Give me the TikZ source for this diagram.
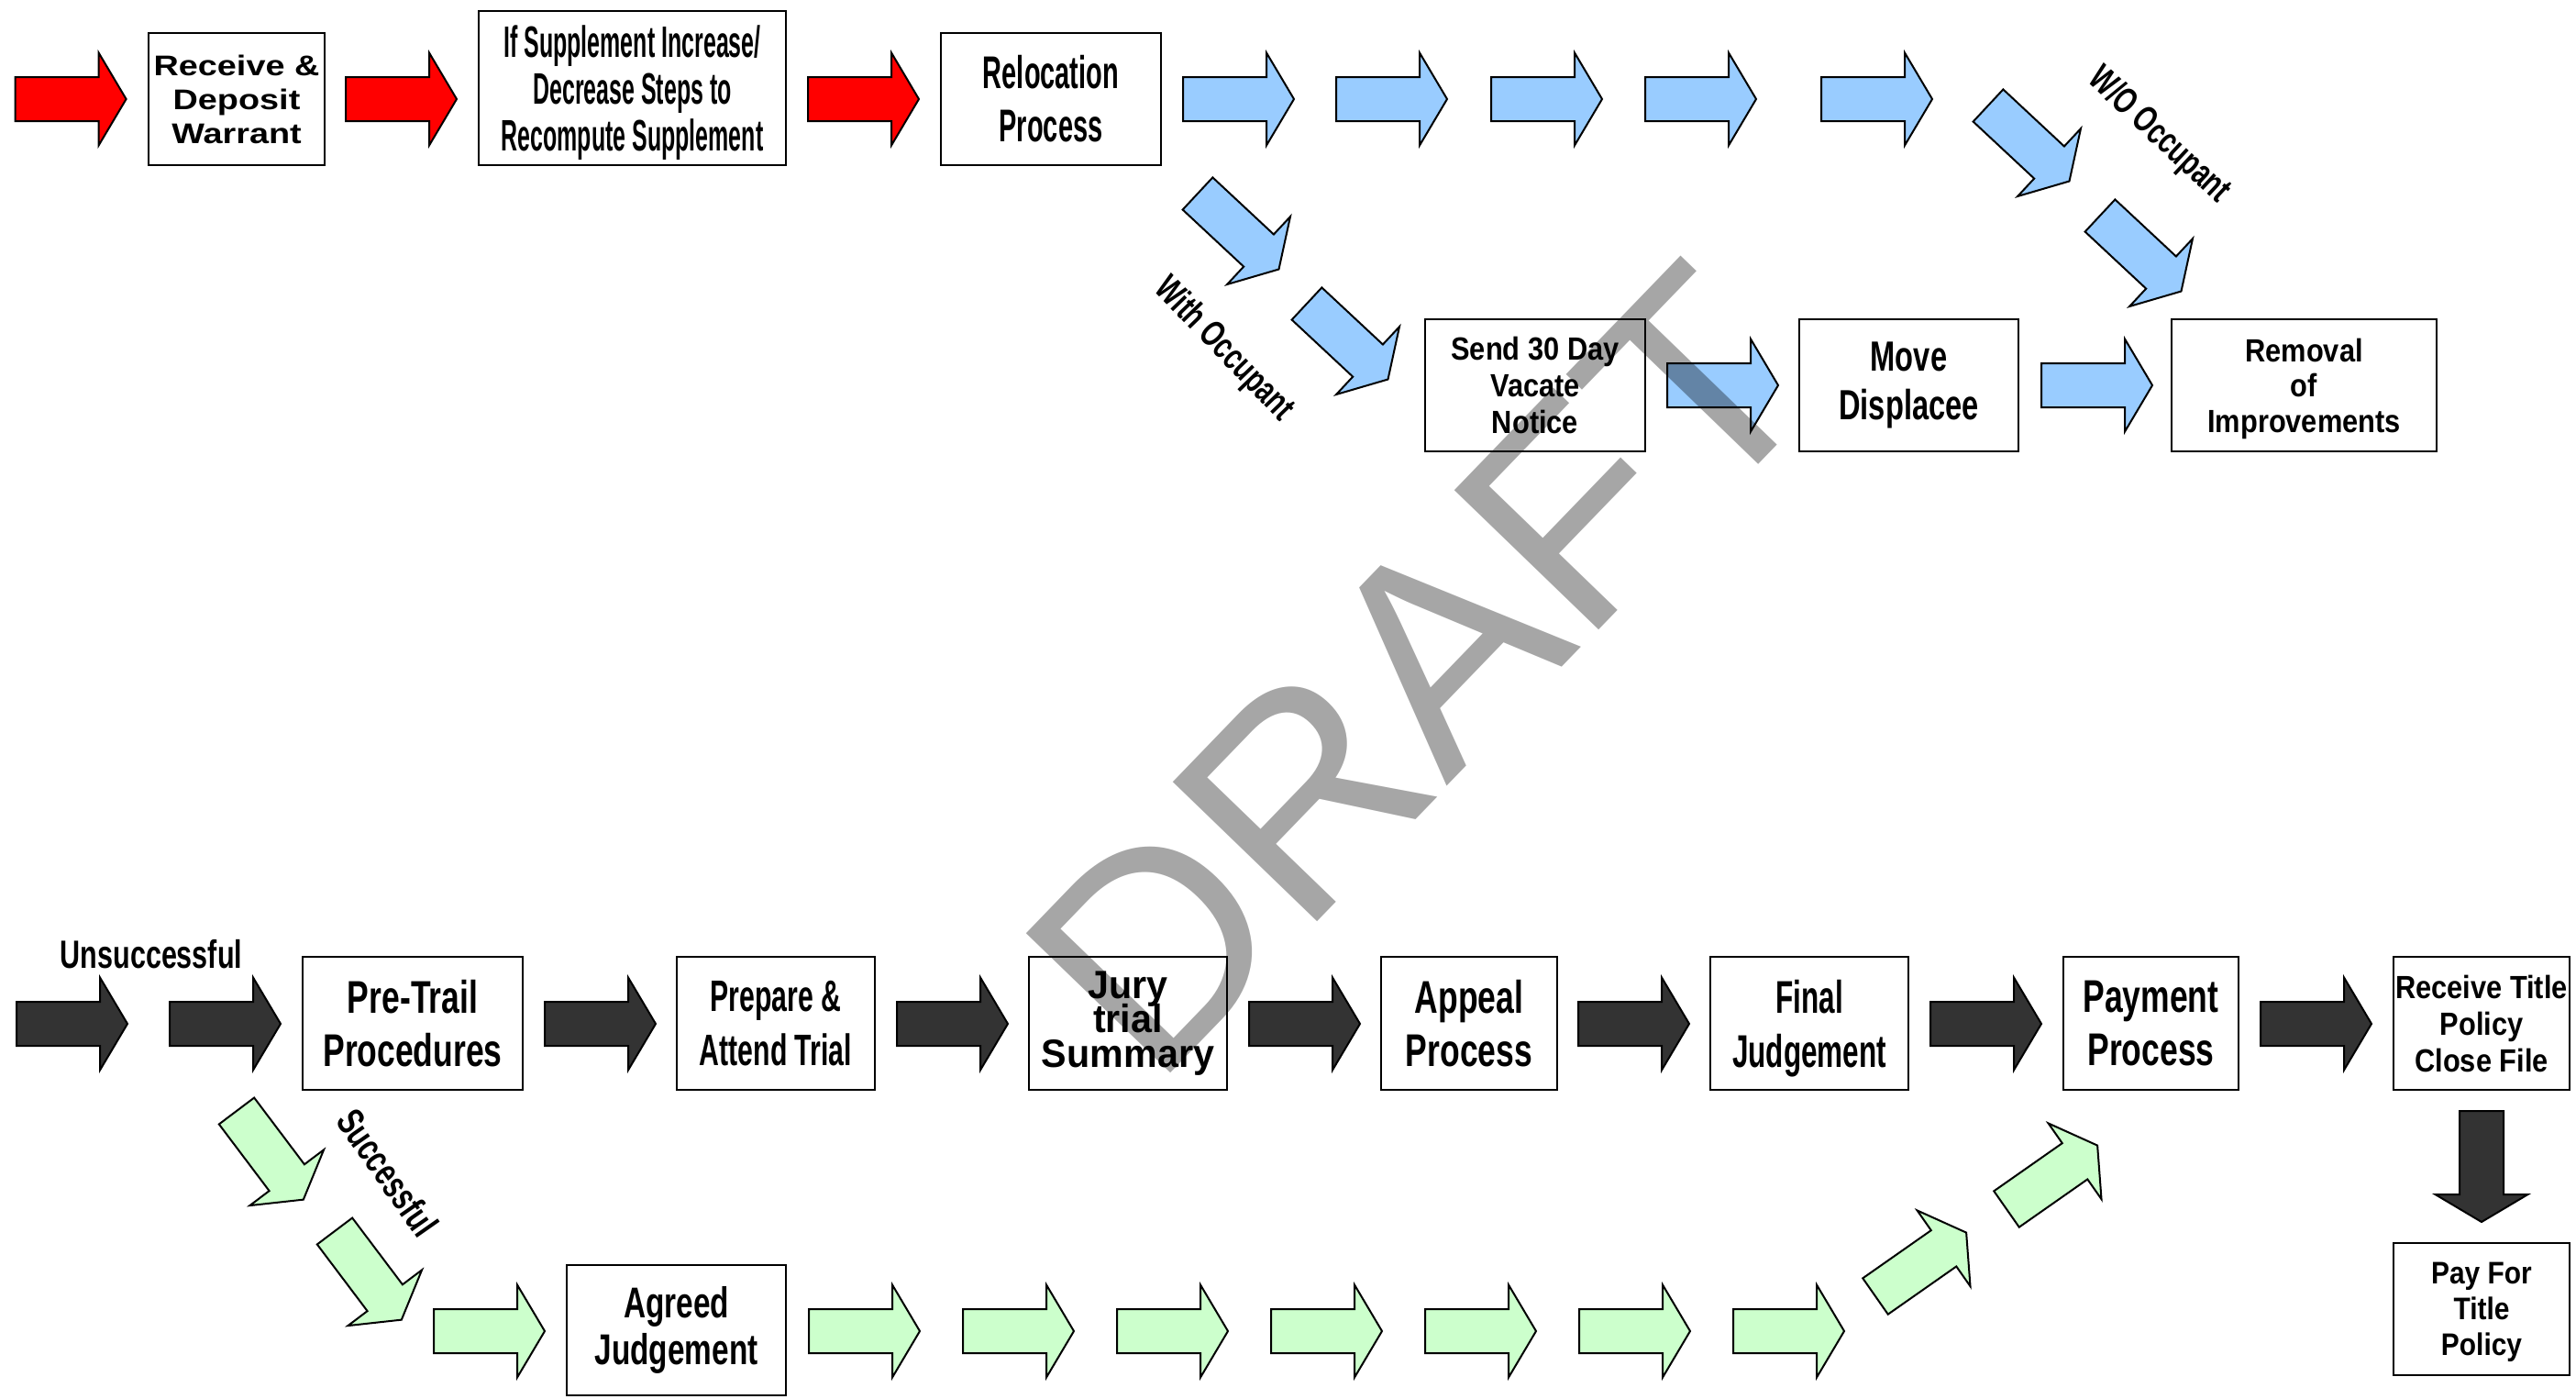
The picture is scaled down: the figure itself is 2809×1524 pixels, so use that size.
\documentclass[tikz,border=0pt]{standalone}
\usepackage{fontspec}
\newfontfamily\fsR{Liberation Sans}
\newfontfamily\fsS{Liberation Sans}[FakeStretch=0.52]
\newfontfamily\fsA{Liberation Sans}[FakeStretch=0.58]
\newfontfamily\fsB{Liberation Sans}[FakeStretch=0.63]
\newfontfamily\fsC{Liberation Sans}[FakeStretch=0.71]
\newfontfamily\fsE{Liberation Sans}[FakeStretch=0.88]
\newfontfamily\fsF{Liberation Sans}[FakeStretch=0.96]
\newfontfamily\fsG{Liberation Sans}[FakeStretch=1.22]
\newcommand\bxfont[3]{#1\bfseries\fontsize{#2}{#3}\selectfont\lineskiplimit=-1000pt\relax}
\definecolor{redA}{HTML}{FF0000}
\definecolor{blueA}{HTML}{99CCFF}
\definecolor{darkA}{HTML}{333333}
\definecolor{greenA}{HTML}{CCFFCC}
\tikzset{
  arrline/.style={draw=black, line width=2, line join=miter},
  redf/.style={fill=redA},
  bluef/.style={fill=blueA},
  darkf/.style={fill=darkA},
  greenf/.style={fill=greenA},
  barrow/.pic={\draw[arrline,#1] (0,24) -- (91,24) -- (91,50.5) -- (121,0) -- (91,-50.5) -- (91,-24) -- (0,-24) -- cycle;},
  box/.style={draw=black, line width=2.5, fill=white, inner sep=0pt, align=center},
  lbl/.style={inner sep=0pt, align=center},
}
\begin{document}
\begin{tikzpicture}[x=1pt, y=-1pt]
\useasboundingbox[fill=white] (0,0) rectangle (2809,1524);

% ---------- top row ----------
\pic at (16.6,108) {barrow=redf};
\node[box, minimum width=192, minimum height=144, font={\bxfont\fsG{31}{37}}] (rdw) at (258,108) {Receive \&\\Deposit\\Warrant};
\pic at (377,108) {barrow=redf};
\node[box, minimum width=335, minimum height=168, text depth=-8pt, font={\bxfont\fsS{48}{51}}] (supp) at (689.5,96) {If Supplement Increase/\\Decrease Steps to\\Recompute Supplement};
\pic at (881,108) {barrow=redf};
\node[box, minimum width=240, minimum height=144, font={\bxfont\fsA{50}{58}}] (reloc) at (1146,108) {Relocation\\Process};

\pic at (1290,108) {barrow=bluef};
\pic at (1457,108) {barrow=bluef};
\pic at (1626,108) {barrow=bluef};
\pic at (1794,108) {barrow=bluef};
\pic at (1986,108) {barrow=bluef};

\pic[rotate=-43] at (2168,115) {barrow=bluef};
\pic[rotate=-43] at (2290,235) {barrow=bluef};
\node[lbl, rotate=-43, font={\bxfont\fsC{40}{44}}] (wo) at (2354,148) {W/O Occupant};

\pic[rotate=-43] at (1306,211) {barrow=bluef};
\pic[rotate=-43] at (1425,331) {barrow=bluef};
\node[lbl, rotate=-46, font={\bxfont\fsC{40}{44}}] (with) at (1334,381) {With Occupant};

\node[box, minimum width=240, minimum height=144, text depth=-11pt, font={\bxfont\fsE{35}{40}}] (send) at (1674,420) {Send 30 Day\\Vacate\\Notice};
\pic at (1818,420) {barrow=bluef};
\node[box, minimum width=239, minimum height=144, font={\bxfont\fsC{46}{53}}] (move) at (2081.5,420) {Move\\Displacee};
\pic at (2226,420) {barrow=bluef};
\node[box, minimum width=289, minimum height=144, text depth=-7pt, font={\bxfont\fsE{35}{38.5}}] (removal) at (2512.5,420) {Removal\\of\\Improvements};

% ---------- bottom row ----------
\node[lbl, font={\bxfont\fsC{43}{46}}] (unsucc) at (165,1040) {Unsuccessful};
\pic at (18,1116) {barrow=darkf};
\pic at (185,1116) {barrow=darkf};
\node[box, minimum width=240, minimum height=145, font={\bxfont\fsC{50}{58}}] (pretrail) at (450,1115.5) {Pre-Trail\\Procedures};
\pic at (594,1116) {barrow=darkf};
\node[box, minimum width=216, minimum height=145, font={\bxfont\fsB{48}{59}}] (prepare) at (846,1115.5) {Prepare \&\\Attend Trial};
\pic at (978,1116) {barrow=darkf};
\node[box, minimum width=216, minimum height=145, font={\bxfont\fsF{43}{37.5}}] (jury) at (1230,1115.5) {Jury\\trial\\Summary};
\pic at (1362,1116) {barrow=darkf};
\node[box, minimum width=192, minimum height=145, font={\bxfont\fsC{50}{58}}] (appeal) at (1602,1115.5) {Appeal\\Process};
\pic at (1721,1116) {barrow=darkf};
\node[box, minimum width=216, minimum height=145, text depth=0pt, font={\bxfont\fsB{50}{59}}] (final) at (1973,1115.5) {Final\\Judgement};
\pic at (2105,1116) {barrow=darkf};
\node[box, minimum width=191, minimum height=145, font={\bxfont\fsC{50}{58}}] (payment) at (2345.5,1115.5) {Payment\\Process};
\pic at (2465,1116) {barrow=darkf};
\node[box, minimum width=192, minimum height=145, text depth=-7pt, font={\bxfont\fsE{35}{40}}] (rtitle) at (2706,1115.5) {Receive Title\\Policy\\Close File};
\pic[rotate=-90] at (2706,1211) {barrow=darkf};
\node[box, minimum width=192, minimum height=144, text depth=-2pt, font={\bxfont\fsE{34}{39}}] (payfor) at (2706,1427) {Pay For\\Title\\Policy};

% ---------- successful branch ----------
\pic[rotate=-53] at (258,1211) {barrow=greenf};
\pic[rotate=-53] at (365,1342) {barrow=greenf};
\node[lbl, rotate=-55, font={\bxfont\fsC{42}{46}}] (succ) at (423,1278) {Successful};
\pic at (473,1451) {barrow=greenf};
\node[box, minimum width=239, minimum height=142, font={\bxfont\fsC{47}{51}}] (agreed) at (737.5,1450) {Agreed\\Judgement};
\pic at (882,1451) {barrow=greenf};
\pic at (1050,1451) {barrow=greenf};
\pic at (1218,1451) {barrow=greenf};
\pic at (1386,1451) {barrow=greenf};
\pic at (1554,1451) {barrow=greenf};
\pic at (1722,1451) {barrow=greenf};
\pic at (1890,1451) {barrow=greenf};
\pic[rotate=35] at (2045,1413) {barrow=greenf};
\pic[rotate=35] at (2188,1318) {barrow=greenf};

% ---------- watermark ----------
\node[anchor=base, rotate=46, inner sep=0pt, font=\fsR\fontsize{318}{318}\selectfont, text=black, text opacity=0.35] (draft) at (1627,807) {DRAFT};
\end{tikzpicture}
\end{document}
